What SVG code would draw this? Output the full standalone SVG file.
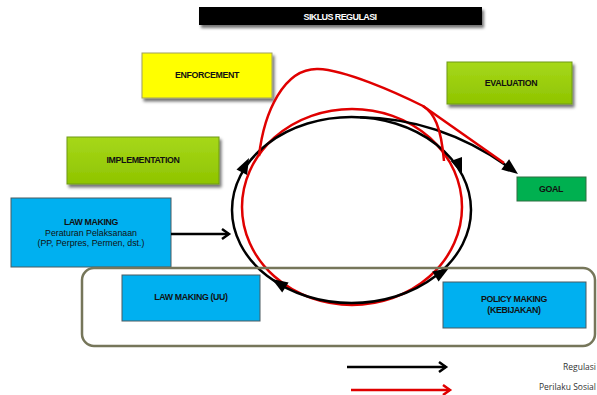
<svg xmlns="http://www.w3.org/2000/svg" width="597" height="395" viewBox="0 0 597 395">
<defs>
<filter id="sh" x="-10%" y="-20%" width="130%" height="160%">
<feDropShadow dx="2" dy="3" stdDeviation="1.8" flood-color="#000" flood-opacity="0.55"/>
</filter>
<linearGradient id="gg" x1="0" y1="0" x2="0" y2="1">
<stop offset="0" stop-color="#a6d81a"/>
<stop offset="1" stop-color="#8fc400"/>
</linearGradient>
</defs>
<style>
.t{font-family:"Liberation Sans",Arial,sans-serif;font-size:8.8px;font-weight:bold;fill:#111;text-anchor:middle;letter-spacing:-0.35px}
.r{font-family:"Liberation Sans",Arial,sans-serif;font-size:8.8px;fill:#111;text-anchor:middle}
.lg{font-family:"Open Sans","Liberation Sans",sans-serif;font-size:8.5px;fill:#333;text-anchor:end}
.yel{fill:#ffff00;stroke:#a0a060;stroke-width:1}
.grn{fill:url(#gg);stroke:#6e9a10;stroke-width:1}
.blu{fill:#00b0f0;stroke:#4a5a60;stroke-width:1}
.blk{fill:none;stroke:#000;stroke-width:2.5}
.red{fill:none;stroke:#e00000;stroke-width:2.5}
.ah{fill:#000}
</style>
<rect width="597" height="395" fill="#fff"/>

<g id="title">
<rect x="199" y="7" width="283" height="18" fill="#000" filter="url(#sh)"/>
<text x="340" y="19.5" font-family="'Liberation Sans',Arial,sans-serif" font-size="9" font-weight="bold" fill="#fff" text-anchor="middle" letter-spacing="-0.6">SIKLUS REGULASI</text>
</g>

<g id="enforcement">
<rect class="yel" x="142" y="53" width="130" height="45" filter="url(#sh)"/>
<text class="t" x="207" y="78">ENFORCEMENT</text>
</g>

<g id="evaluation">
<rect class="grn" x="447" y="62" width="125" height="42" filter="url(#sh)"/>
<text class="t" x="511" y="86">EVALUATION</text>
</g>

<g id="implementation">
<rect class="grn" x="67" y="137" width="152" height="47" filter="url(#sh)"/>
<text class="t" x="143" y="163">IMPLEMENTATION</text>
</g>

<g id="goal">
<rect x="517" y="177" width="69" height="24" fill="#00b050" stroke="#2e6e40" stroke-width="1"/>
<text class="t" x="551" y="192" font-weight="normal">GOAL</text>
</g>

<g id="lawmaking-pp">
<rect class="blu" x="11" y="198" width="160" height="69"/>
<text class="t" x="91" y="225">LAW MAKING</text>
<text class="r" x="91" y="236">Peraturan Pelaksanaan</text>
<text class="r" x="91" y="246">(PP, Perpres, Permen, dst.)</text>
</g>

<g id="connectors">
<ellipse class="red" cx="352" cy="207" rx="110" ry="98"/>
<ellipse class="blk" cx="351.5" cy="210" rx="119.5" ry="93"/>
<path class="blk" d="M360,117.3 C420,118 470,140 507,166"/>
<path class="red" d="M259,156 C264,112 284,68 318,69 C345,70 395,92 423,106 C434,113 441,126 444,161"/>
<path class="red" d="M423,106 L504,163"/>
<polygon class="ah" points="518,174 509.1,159.2 501.3,169.6"/>
<polygon class="ah" points="249,158 247.1,174.9 236.5,169.5"/>
<polygon class="ah" points="462,174 462,156.9 450.8,161.1"/>
<polygon class="ah" points="449,268 438.6,281.6 432.2,271.4"/>
<polygon class="ah" points="272,279 288.6,282.6 282.2,292.6"/>
<line class="blk" x1="171" y1="234" x2="229" y2="234"/>
<polyline class="blk" points="222,229 229,234 222,239" stroke-linejoin="miter"/>
</g>

<g id="group-box">
<rect x="82" y="268" width="513" height="78" rx="12" fill="none" stroke="#76765a" stroke-width="2.5"/>
</g>

<g id="lawmaking-uu">
<rect class="blu" x="122" y="275" width="138" height="46"/>
<text class="t" x="191" y="300">LAW MAKING (UU)</text>
</g>

<g id="policymaking">
<rect class="blu" x="443" y="282" width="143" height="46"/>
<text class="t" x="514" y="302">POLICY MAKING</text>
<text class="t" x="514" y="313">(KEBIJAKAN)</text>
</g>

<g id="legend">
<line class="blk" x1="347" y1="367" x2="446" y2="367"/>
<polyline class="blk" points="439,362 446,367 439,372"/>
<line x1="351" y1="390" x2="450" y2="390" stroke="#e00000" stroke-width="2.5"/>
<polyline points="443,385 450,390 443,395" fill="none" stroke="#e00000" stroke-width="2.5"/>
<text class="lg" x="596" y="370">Regulasi</text>
<text class="lg" x="596" y="390">Perilaku Sosial</text>
</g>
</svg>
